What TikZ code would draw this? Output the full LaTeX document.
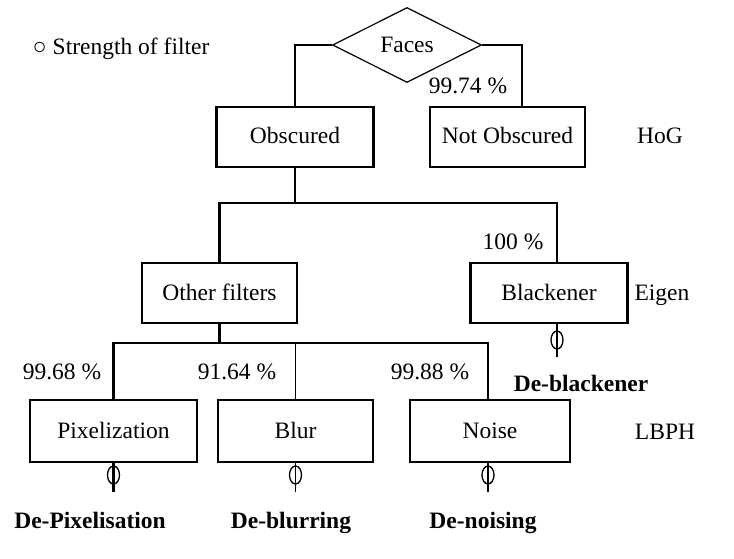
\documentclass[tikz,border=0pt]{standalone}
\usepackage{fontspec}
\setmainfont{Liberation Serif}
\usetikzlibrary{shapes.geometric}
\begin{document}
\begin{tikzpicture}[x=1pt,y=-1pt,
  every node/.style={font=\fontsize{23.5}{27}\selectfont},
  boxnode/.style={draw,line width=2.5pt,rectangle,minimum height=60pt,inner sep=0pt,text height=16pt,text depth=2pt},
  thickline/.style={line width=2.5pt},
  thinline/.style={line width=1.4pt},
  stemring/.style={draw,ellipse,line width=1.3pt,minimum width=12pt,minimum height=18pt,inner sep=0pt},
  lbl/.style={inner sep=0pt,text height=16pt,text depth=2pt},
  boldlbl/.style={inner sep=0pt,anchor=base,font=\fontsize{23.5}{27}\selectfont\bfseries}]
\useasboundingbox (0,0) rectangle (734,559);
% nodes
\node[draw,diamond,line width=1.2pt,inner sep=0pt,minimum width=149pt,minimum height=75pt] (faces) at (407,45) {Faces};
\node[boxnode,minimum width=157pt] (obs) at (295,137) {Obscured};
\node[boxnode,minimum width=155pt] (nobs) at (507.5,137) {Not Obscured};
\node[boxnode,minimum width=155pt] (other) at (219.5,293) {Other filters};
\node[boxnode,minimum width=157pt] (black) at (549,293) {Blackener};
\node[boxnode,minimum width=167pt,minimum height=62pt] (pix) at (113.5,431) {Pixelization};
\node[boxnode,minimum width=155pt,minimum height=62pt] (blur) at (295.5,431) {Blur};
\node[boxnode,minimum width=160pt,minimum height=62pt] (noise) at (490,431) {Noise};
% labels
\node[lbl] (legend) at (121,48) {○ Strength of filter};
\node[lbl] (p1) at (468,87) {99.74 \%};
\node[lbl] (p2) at (513,242) {100 \%};
\node[lbl] (p3) at (62,372) {99.68 \%};
\node[lbl] (p4) at (237,372) {91.64 \%};
\node[lbl] (p5) at (430,372) {99.88 \%};
\node[lbl] (hog) at (660,137) {HoG};
\node[lbl] (eigen) at (662,293) {Eigen};
\node[lbl] (lbph) at (665,432) {LBPH};
\node[boldlbl] (dbl) at (581,391) {De-blackener};
\node[boldlbl] (dpix) at (90,528) {De-Pixelisation};
\node[boldlbl] (dblur) at (291,528) {De-blurring};
\node[boldlbl] (dnoise) at (483,528) {De-noising};
% junction coordinates
\coordinate (fl) at (295,45);
\coordinate (fr) at (522,45);
\coordinate (j1) at (295,203);
\coordinate (j1l) at (219.5,203);
\coordinate (j1r) at (557,203);
\coordinate (j2) at (219.5,343);
\coordinate (j2l) at (113.5,343);
\coordinate (j2m) at (295.5,343);
\coordinate (j2r) at (488,343);
\coordinate (sbl) at (557,357);
\coordinate (spix) at (113.5,492);
\coordinate (sblur) at (295.5,492);
\coordinate (snoise) at (488,492);
% top connectors
\draw[thickline] (faces.west) -- (fl) -- (obs.north);
\draw[thickline] (faces.east) -- (fr) -- (fr |- nobs.north);
% second level
\draw[thinline] (obs.south) -- (j1);
\draw[thickline] (other.north) -- (j1l) -- (j1r) -- (j1r |- black.north);
% third level
\draw[thickline] (other.south) -- (j2);
\draw[thickline] (pix.north) -- (j2l) -- (j2r) -- (j2r |- noise.north);
\draw[thinline] (j2m) -- (blur.north);
% stems
\draw[thickline] (sbl |- black.south) -- (sbl);
\node[stemring] (rbl) at (557,340) {};
\draw[thickline] (pix.south) -- (spix);
\node[stemring] (rpix) at (113.5,475) {};
\draw[thinline] (blur.south) -- (sblur);
\node[stemring] (rblur) at (295.5,475) {};
\draw[thinline] (snoise |- noise.south) -- (snoise);
\node[stemring] (rnoise) at (488,475) {};
\end{tikzpicture}
\end{document}
